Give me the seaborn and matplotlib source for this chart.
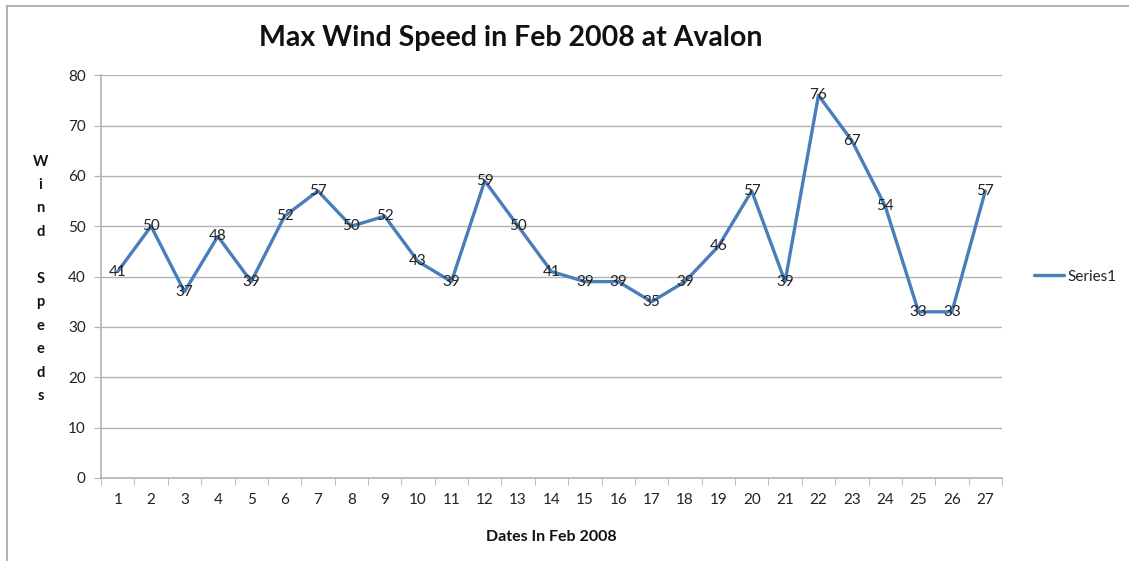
import matplotlib
matplotlib.use('Agg')
import matplotlib.pyplot as plt
import seaborn as sns
import pandas as pd
from matplotlib.lines import Line2D

# data
dates = list(range(1, 28))
wind_speed = [41, 50, 37, 48, 39, 52, 57, 50, 52, 43, 39, 59, 50, 41, 39, 39,
              35, 39, 46, 57, 39, 76, 67, 54, 33, 33, 57]
series_name = 'Series1'

df = pd.DataFrame({'pos': range(len(dates)), 'date': dates, 'speed': wind_speed})

sns.set_style('white')
plt.rcParams['font.family'] = ['Lato', 'DejaVu Sans']

fig = plt.figure(figsize=(11.29, 5.61), dpi=100)
ax = fig.add_axes([0.0895, 0.148, 0.798, 0.718])

line_color = '#4A7EBB'
grid_color = '#B3B3B3'

sns.lineplot(data=df, x='pos', y='speed', ax=ax, color=line_color,
             linewidth=2.4, label=series_name)

# data labels
for _, row in df.iterrows():
    ax.text(row['pos'], row['speed'], str(row['speed']), ha='center', va='center',
            fontsize=11, color='#222222')

ax.set_xlim(-0.5, len(dates) - 0.5)
ax.set_ylim(0, 80)
ax.set_yticks(range(0, 81, 10))
ax.set_xticks(range(len(dates)))
ax.set_xticklabels([str(d) for d in dates])
ax.set_xticks([i - 0.5 for i in range(len(dates) + 1)], minor=True)
ax.tick_params(axis='x', which='major', length=0, pad=11, labelsize=11, colors='#222222')
ax.tick_params(axis='x', which='minor', length=5, color=grid_color, direction='out', bottom=True)
ax.tick_params(axis='y', length=5, color=grid_color, direction='out', left=True,
               labelsize=11, colors='#222222', pad=6)

ax.yaxis.grid(True, color=grid_color, linewidth=1)
ax.set_axisbelow(True)
for side in ['top', 'right']:
    ax.spines[side].set_visible(False)
for side in ['left', 'bottom']:
    ax.spines[side].set_color(grid_color)
    ax.spines[side].set_linewidth(1.2)

ax.set_xlabel('')
ax.set_ylabel('')

# title and axis labels
fig.text(0.4526, 0.932, 'Max Wind Speed in Feb 2008 at Avalon', ha='center', va='center',
         fontsize=20.5, fontweight='bold', color='#111111')
fig.text(0.488, 0.042, 'Dates In Feb 2008', ha='center', va='center',
         fontsize=11.5, fontweight='bold', color='#111111')
fig.text(0.036, 0.503, '\n'.join(list('Wind') + [''] + list('Speeds')), ha='center',
         va='center', fontsize=10.5, fontweight='bold', color='#111111', linespacing=1.86)

# legend on the right
ax.legend(loc='center left', bbox_to_anchor=(1.02, 0.5), frameon=False,
          fontsize=11, handlelength=2.0, handletextpad=0.2, labelcolor='#222222')

# partial chart border (top and left edges)
fig.add_artist(Line2D([0.0062, 1.0], [0.989, 0.989], color='#A6A6A6', linewidth=1.2))
fig.add_artist(Line2D([0.0062, 0.0062], [0.0, 0.989], color='#A6A6A6', linewidth=1.2))

plt.savefig('out.png', dpi=100)
plt.close()
